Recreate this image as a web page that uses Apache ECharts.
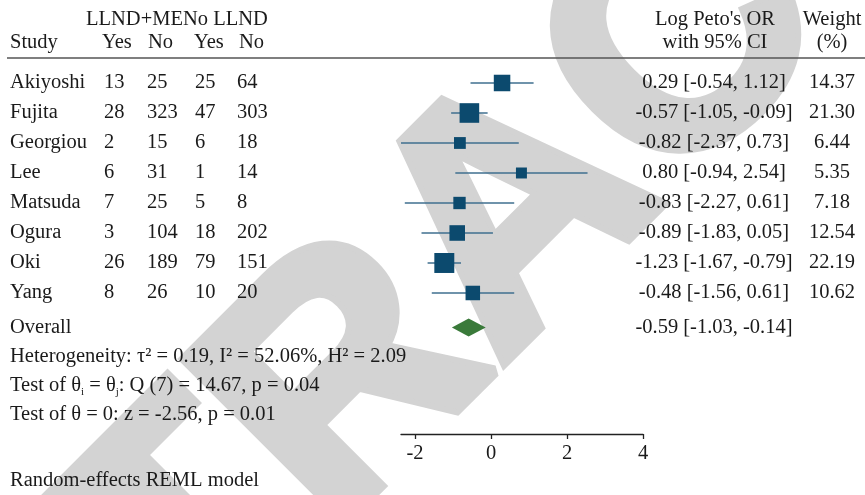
<!DOCTYPE html>
<html>
<head>
<meta charset="utf-8">
<script src="https://cdn.jsdelivr.net/npm/echarts@6/dist/echarts.min.js"></script>
<style>html,body{margin:0;padding:0;background:#fff;}#c{width:865px;height:495px;}</style>
</head>
<body>
<div id="c"></div>
<script>
const studies = ['Akiyoshi','Fujita','Georgiou','Lee','Matsuda','Ogura','Oki','Yang'];
const treatYes = [13,28,2,6,7,3,26,8];
const treatNo = [25,323,15,31,25,104,189,26];
const ctrlYes = [25,47,6,1,5,18,79,10];
const ctrlNo = [64,303,18,14,8,202,151,20];
const logOR = [0.29,-0.57,-0.82,0.80,-0.83,-0.89,-1.23,-0.48];
const ciLow = [-0.54,-1.05,-2.37,-0.94,-2.27,-1.83,-1.67,-1.56];
const ciHigh = [1.12,-0.09,0.73,2.54,0.61,0.05,-0.79,0.61];
const weights = [14.37,21.30,6.44,5.35,7.18,12.54,22.19,10.62];
const overallEst = -0.59, overallLow = -1.03, overallHigh = -0.14;
const xTicks = [-2,0,2,4];
const groupHeader = 'LLND+MENo LLND';
const colHeaders = ['Study','Yes','No','Yes','No'];

const FONT = '"Liberation Serif", "Times New Roman", serif';
const FS = 20.5;
const TXT = '#1a1a1a';
const OVERALL_ROW = 8.15;
const fmt = v => v.toFixed(2);

const rows = studies.map((s,i)=>i);
function textSeries(xPix, texts, align, rowList) {
  const rl = rowList || rows;
  return {
    type: 'custom', xAxisIndex: 1, yAxisIndex: 1, silent: true, z: 5,
    data: rl.map(r => [xPix, r]),
    renderItem: (params, api) => {
      const p = api.coord([api.value(0), api.value(1)]);
      return {type:'text', x:p[0], y:p[1], style:{text:String(texts[params.dataIndex]), font: FS+'px '+FONT, fill:TXT, align:align, verticalAlign:'middle'}};
    }
  };
}

const ciTexts = logOR.map((v,i)=>fmt(v)+' ['+fmt(ciLow[i])+', '+fmt(ciHigh[i])+']');
ciTexts.push(fmt(overallEst)+' ['+fmt(overallLow)+', '+fmt(overallHigh)+']');
const wTexts = weights.map(fmt);

const xMin = Math.min(...ciLow);
const yMin = -0.833, yMax = -0.833 + 376/30;

const hdr = (text, x, y, align) => ({type:'text', x:x, y:y, z:5, style:{text:text, font: FS+'px '+FONT, fill:TXT, align:align||'left', verticalAlign:'middle'}});

const option = {
  animation: false,
  backgroundColor: '#fff',
  grid: [
    {left: 401, right: 222, top: 58, bottom: 61},
    {left: 0, right: 0, top: 58, bottom: 61}
  ],
  xAxis: [
    {type:'value', gridIndex:0, position:'bottom', min:xMin, max:4, splitLine:{show:false},
     axisLine:{show:true, onZero:false, lineStyle:{color:'#222', width:1.3}},
     axisTick:{show:true, length:5, lineStyle:{color:'#222', width:1.3}, customValues:xTicks},
     axisLabel:{customValues:xTicks, fontFamily:FONT, fontSize:FS, color:TXT, margin:9}},
    {type:'value', gridIndex:1, min:0, max:865, show:false}
  ],
  yAxis: [
    {type:'value', gridIndex:0, inverse:true, min:yMin, max:yMax, show:false},
    {type:'value', gridIndex:1, inverse:true, min:yMin, max:yMax, show:false}
  ],
  graphic: [
    {type:'text', x:519, y:218, rotation: 45*Math.PI/180, z:-10, silent:true,
     style:{text:'RETRACTED', font:'bold 330px "Liberation Sans", Arial, sans-serif', fill:'#d3d3d3', stroke:'#d3d3d3', lineWidth:12, lineJoin:'miter', align:'center', verticalAlign:'middle'}},
    {type:'line', shape:{x1:7, y1:58, x2:865, y2:58}, z:5, style:{stroke:'#555', lineWidth:1.6}},
    hdr(groupHeader, 86, 20),
    hdr(colHeaders[0], 10, 43),
    hdr(colHeaders[1], 102, 43),
    hdr(colHeaders[2], 148, 43),
    hdr(colHeaders[3], 194, 43),
    hdr(colHeaders[4], 239, 43),
    hdr("Log Peto's OR", 715, 20, 'center'),
    hdr('with 95% CI', 715, 43, 'center'),
    hdr('Weight', 832, 20, 'center'),
    hdr('(%)', 832, 43, 'center'),
    {type:'text', x:10, y:357, z:5, style:{text:'Heterogeneity: τ² = 0.19, I² = 52.06%, H² = 2.09', font: FS+'px '+FONT, fill:TXT, verticalAlign:'middle'}},
    {type:'text', x:10, y:386, z:5, style:{
      text:'{n|Test of θ}{s|i}{n| = θ}{s|j}{n|: Q (7) = 14.67, p = 0.04}',
      verticalAlign:'middle',
      rich:{n:{font: FS+'px '+FONT, fill:TXT, lineHeight:24, verticalAlign:'middle'}, s:{font:'11px '+FONT, fill:TXT, verticalAlign:'bottom', lineHeight:11}}}},
    {type:'text', x:10, y:415, z:5, style:{text:'Test of θ = 0: z = -2.56, p = 0.01', font: FS+'px '+FONT, fill:TXT, verticalAlign:'middle'}},
    {type:'text', x:10, y:481, z:5, style:{text:'Random-effects REML model', font: FS+'px '+FONT, fill:TXT, verticalAlign:'middle'}}
  ],
  series: [
    {
      type:'custom', xAxisIndex:0, yAxisIndex:0, silent:true, z:3,
      data: rows.map(i=>[ciLow[i], ciHigh[i], i]),
      renderItem:(params, api)=>{
        const a = api.coord([api.value(0), api.value(2)]);
        const b = api.coord([api.value(1), api.value(2)]);
        return {type:'line', shape:{x1:a[0], y1:a[1], x2:b[0], y2:b[1]}, style:{stroke:'#3f6f8f', lineWidth:1.5}};
      }
    },
    {
      type:'scatter', xAxisIndex:0, yAxisIndex:0, silent:true, z:4,
      symbol:'rect',
      data: rows.map(i=>[logOR[i], i, weights[i]]),
      symbolSize:(val)=>3.75*Math.sqrt(val[2]) + 2.3,
      itemStyle:{color:'#0c4a6e', opacity:1}
    },
    {
      type:'custom', xAxisIndex:0, yAxisIndex:0, silent:true, z:4,
      data: [[overallLow, overallEst, overallHigh, OVERALL_ROW]],
      renderItem:(params, api)=>{
        const l = api.coord([api.value(0), api.value(3)]);
        const m = api.coord([api.value(1), api.value(3)]);
        const r = api.coord([api.value(2), api.value(3)]);
        const h = 9;
        return {type:'polygon', shape:{points:[[l[0],l[1]],[m[0],m[1]-h],[r[0],r[1]],[m[0],m[1]+h]]}, style:{fill:'#3a7a3a'}};
      }
    },
    textSeries(10, studies.concat(['Overall']), 'left', rows.concat([OVERALL_ROW])),
    textSeries(104, treatYes, 'left'),
    textSeries(147, treatNo, 'left'),
    textSeries(195, ctrlYes, 'left'),
    textSeries(237, ctrlNo, 'left'),
    textSeries(714, ciTexts, 'center', rows.concat([OVERALL_ROW])),
    textSeries(832, wTexts, 'center')
  ]
};
const chart = echarts.init(document.getElementById('c'), null, {renderer:'canvas'});
chart.setOption(option);
</script>
</body>
</html>
